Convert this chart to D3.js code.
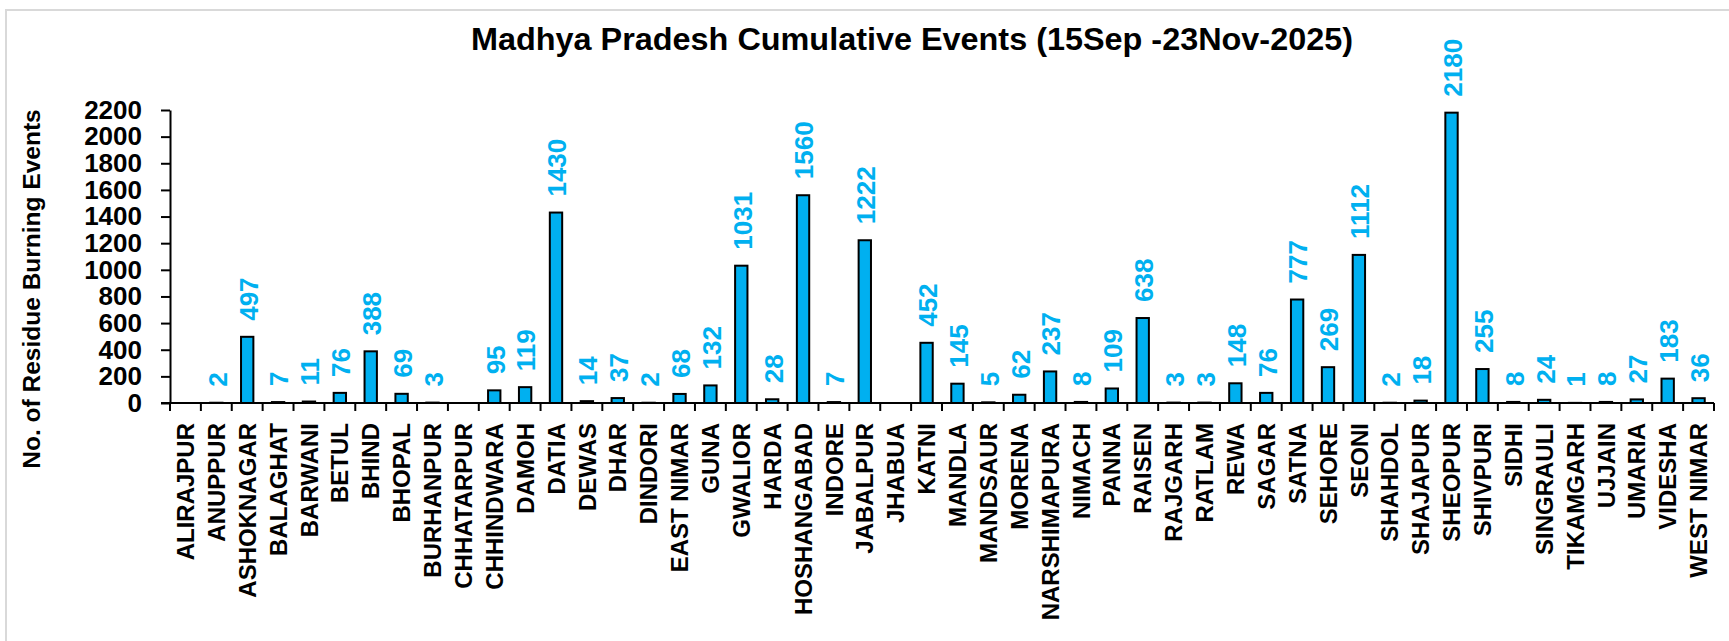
<!DOCTYPE html>
<html>
<head>
<meta charset="utf-8">
<script src="https://cdn.jsdelivr.net/npm/d3@7"></script>
<style>
  html, body { margin: 0; padding: 0; background: #fff; }
  svg { display: block; }
  text { font-family: "Liberation Sans", Arial, sans-serif; font-weight: bold; }
</style>
</head>
<body>
<div id="chart"></div>
<script>
// districts and cumulative residue burning events (blank = no bar / no label)
const districts = ["ALIRAJPUR", "ANUPPUR", "ASHOKNAGAR", "BALAGHAT", "BARWANI", "BETUL", "BHIND", "BHOPAL",
    "BURHANPUR", "CHHATARPUR", "CHHINDWARA", "DAMOH", "DATIA", "DEWAS", "DHAR", "DINDORI", "EAST NIMAR",
    "GUNA", "GWALIOR", "HARDA", "HOSHANGABAD", "INDORE", "JABALPUR", "JHABUA", "KATNI", "MANDLA",
    "MANDSAUR", "MORENA", "NARSHIMAPURA", "NIMACH", "PANNA", "RAISEN", "RAJGARH", "RATLAM", "REWA",
    "SAGAR", "SATNA", "SEHORE", "SEONI", "SHAHDOL", "SHAJAPUR", "SHEOPUR", "SHIVPURI", "SIDHI",
    "SINGRAULI", "TIKAMGARH", "UJJAIN", "UMARIA", "VIDESHA", "WEST NIMAR"];
const events = [null, 2, 497, 7, 11, 76, 388, 69,
    3, null, 95, 119, 1430, 14, 37, 2, 68,
    132, 1031, 28, 1560, 7, 1222, null, 452, 145,
    5, 62, 237, 8, 109, 638, 3, 3, 148,
    76, 777, 269, 1112, 2, 18, 2180, 255, 8,
    24, 1, 8, 27, 183, 36];
const yTicks = [0, 200, 400, 600, 800, 1000, 1200, 1400, 1600, 1800, 2000, 2200];
const chartTitle = "Madhya Pradesh Cumulative Events (15Sep -23Nov-2025)";
const yTitle = "No. of Residue Burning Events";

const width = 1729, height = 641;
const margin = { top: 110, right: 15, bottom: 238, left: 170 };

const svg = d3.select("#chart").append("svg")
    .attr("width", width)
    .attr("height", height);

// light frame (left + top edges visible)
svg.append("path")
    .attr("d", `M6,${height} V10 H${width}`)
    .attr("fill", "none")
    .attr("stroke", "#d9d9d9")
    .attr("stroke-width", 2);

const data = districts.map((d, i) => ({ name: d, value: events[i] }));

const x = d3.scaleBand()
    .domain(districts)
    .range([margin.left, width - margin.right])
    .paddingInner(0)
    .paddingOuter(0);

const y = d3.scaleLinear()
    .domain([0, 2200])
    .range([height - margin.bottom, margin.top]);

const barW = x.bandwidth() / 2.5;

// title
svg.append("text")
    .attr("x", 912)
    .attr("y", 50)
    .attr("text-anchor", "middle")
    .attr("font-size", 31)
    .attr("textLength", 882)
    .attr("lengthAdjust", "spacingAndGlyphs")
    .attr("fill", "#000")
    .text(chartTitle);

// y axis
const yAxis = svg.append("g")
    .attr("transform", `translate(${margin.left},0)`)
    .call(d3.axisLeft(y).tickValues(yTicks).tickFormat(d3.format("d"))
        .tickSize(9).tickPadding(19).tickSizeOuter(0));
yAxis.select(".domain").attr("stroke", "#000").attr("stroke-width", 2);
yAxis.selectAll(".tick line").attr("stroke", "#000").attr("stroke-width", 2);
yAxis.selectAll(".tick text")
    .attr("font-size", 26)
    .attr("font-family", "Liberation Sans, Arial, sans-serif")
    .attr("font-weight", "bold")
    .attr("fill", "#000");

svg.append("text")
    .attr("transform", "translate(31,289) rotate(-90)")
    .attr("text-anchor", "middle")
    .attr("dy", "0.35em")
    .attr("font-size", 24.5)
    .attr("fill", "#000")
    .text(yTitle);

// bars
svg.append("g")
    .selectAll("rect")
    .data(data.filter(d => d.value !== null))
    .enter().append("rect")
    .attr("x", d => x(d.name) + (x.bandwidth() - barW) / 2)
    .attr("y", d => y(d.value))
    .attr("width", barW)
    .attr("height", d => y(0) - y(d.value))
    .attr("fill", "#00b0f0")
    .attr("stroke", "#000")
    .attr("stroke-width", 2);

// x axis line and category boundary ticks
const x0 = y(0);
svg.append("line")
    .attr("x1", x.range()[0] - 9).attr("x2", x.range()[1])
    .attr("y1", x0).attr("y2", x0)
    .attr("stroke", "#000").attr("stroke-width", 2);

const bounds = districts.map(d => x(d)).concat([x.range()[1]]);
svg.append("g")
    .selectAll("line")
    .data(bounds)
    .enter().append("line")
    .attr("x1", d => d).attr("x2", d => d)
    .attr("y1", x0).attr("y2", x0 + 8)
    .attr("stroke", "#000").attr("stroke-width", 2);

// category labels
svg.append("g")
    .selectAll("text")
    .data(districts)
    .enter().append("text")
    .attr("transform", d => `translate(${x(d) + x.bandwidth() / 2},${x0 + 20}) rotate(-90)`)
    .attr("text-anchor", "end")
    .attr("dy", "0.36em")
    .attr("font-size", 24)
    .attr("fill", "#000")
    .text(d => d);

// value labels
svg.append("g")
    .selectAll("text")
    .data(data.filter(d => d.value !== null))
    .enter().append("text")
    .attr("transform", d => `translate(${x(d.name) + x.bandwidth() / 2 + 1},${y(d.value) - 16}) rotate(-90)`)
    .attr("text-anchor", "start")
    .attr("dy", "0.36em")
    .attr("font-size", 26)
    .attr("fill", "#00b0f0")
    .text(d => d.value);
</script>
</body>
</html>
